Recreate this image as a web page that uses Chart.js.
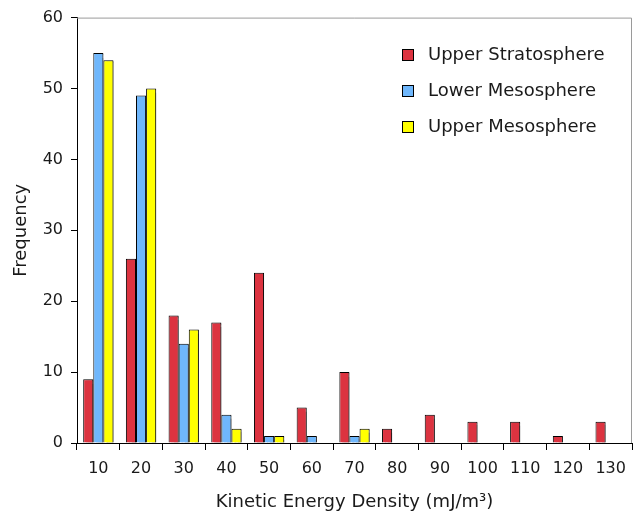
<!DOCTYPE html>
<html lang="en">
<head>
    <meta charset="UTF-8">
    <title>Kinetic Energy Density</title>
    <style>
        body {
            margin: 0;
            padding: 0;
            background-color: #fff;
        }
        #wrap {
            width: 636px;
            height: 516px;
        }
    </style>
    <script src="https://cdn.jsdelivr.net/npm/chart.js"></script>
</head>
<body>
    <div id="wrap"><canvas id="ked-chart"></canvas></div>
    <script>
        const categories = ['10', '20', '30', '40', '50', '60', '70', '80', '90', '100', '110', '120', '130'];
        const upperStratosphere = [9, 26, 18, 17, 24, 5, 10, 2, 4, 3, 3, 1, 3];
        const lowerMesosphere = [55, 49, 14, 4, 1, 1, 1, 0, 0, 0, 0, 0, 0];
        const upperMesosphere = [54, 50, 16, 2, 1, 0, 2, 0, 0, 0, 0, 0, 0];
        const yTicks = [0, 10, 20, 30, 40, 50, 60];

        const fontFamily = '"DejaVu Sans", Verdana, sans-serif';

        // drop shadow behind the bars
        const barShadow = {
            id: 'barShadow',
            beforeDatasetsDraw(chart) {
                const ctx = chart.ctx;
                ctx.save();
                ctx.shadowColor = 'rgba(0,0,0,0.35)';
                ctx.shadowOffsetX = 3;
                ctx.shadowOffsetY = 1;
                ctx.shadowBlur = 1;
            },
            afterDatasetsDraw(chart) {
                chart.ctx.restore();
            }
        };

        // grey frame on top and right, legend inside the plot
        const frameAndLegend = {
            id: 'frameAndLegend',
            afterDraw(chart) {
                const ctx = chart.ctx;
                const a = chart.chartArea;
                ctx.save();
                ctx.strokeStyle = '#9a9a9a';
                ctx.lineWidth = 1;
                ctx.beginPath();
                ctx.moveTo(a.left, a.top + 0.5);
                ctx.lineTo(a.right - 0.5, a.top + 0.5);
                ctx.lineTo(a.right - 0.5, a.bottom);
                ctx.stroke();

                ctx.font = '18px ' + fontFamily;
                ctx.textBaseline = 'middle';
                chart.data.datasets.forEach((ds, i) => {
                    const y = 55 + i * 36;
                    const x = 402;
                    ctx.fillStyle = ds.backgroundColor;
                    ctx.fillRect(x, y - 6, 12, 12);
                    ctx.strokeStyle = '#000';
                    ctx.strokeRect(x + 0.5, y - 5.5, 11, 11);
                    ctx.fillStyle = '#1a1a1a';
                    ctx.fillText(ds.label, x + 26, y);
                });
                ctx.restore();
            }
        };

        const makeChart = () => {
            const ctx = document.getElementById('ked-chart').getContext('2d');
            new Chart(ctx, {
                type: 'bar',
                data: {
                    labels: categories,
                    datasets: [
                        { label: 'Upper Stratosphere', data: upperStratosphere, backgroundColor: '#dc3340' },
                        { label: 'Lower Mesosphere', data: lowerMesosphere, backgroundColor: '#6fb7fc' },
                        { label: 'Upper Mesosphere', data: upperMesosphere, backgroundColor: '#ffff00' }
                    ].map(d => Object.assign(d, {
                        borderColor: '#000',
                        borderWidth: 1,
                        borderSkipped: 'bottom',
                        categoryPercentage: 0.71,
                        barPercentage: 1
                    }))
                },
                options: {
                    responsive: true,
                    maintainAspectRatio: false,
                    animation: false,
                    layout: { autoPadding: false, padding: { top: 12.4, right: 4, left: 0, bottom: 3 } },
                    plugins: {
                        legend: { display: false },
                        tooltip: { enabled: false }
                    },
                    scales: {
                        x: {
                            afterFit: s => { s.height = 70; },
                            grid: {
                                offset: true,
                                drawOnChartArea: false,
                                drawTicks: true,
                                tickLength: 7,
                                color: '#000'
                            },
                            border: { color: '#000', width: 1 },
                            ticks: {
                                color: '#1a1a1a',
                                font: { family: fontFamily, size: 16 },
                                padding: 9,
                                maxRotation: 0,
                                autoSkip: false
                            },
                            title: {
                                display: true,
                                text: 'Kinetic Energy Density (mJ/m³)',
                                color: '#1a1a1a',
                                font: { family: fontFamily, size: 18 },
                                padding: { top: 14, bottom: 0 }
                            }
                        },
                        y: {
                            min: 0,
                            max: 60,
                            afterBuildTicks: s => { s.ticks = yTicks.map(v => ({ value: v })); },
                            afterFit: s => { s.width = 77; },
                            grid: {
                                drawOnChartArea: false,
                                tickLength: 6,
                                color: '#000'
                            },
                            border: { color: '#000', width: 1 },
                            ticks: {
                                color: '#1a1a1a',
                                font: { family: fontFamily, size: 16 },
                                padding: 8
                            },
                            title: {
                                display: true,
                                text: 'Frequency',
                                color: '#1a1a1a',
                                font: { family: fontFamily, size: 18 },
                                padding: { top: 11, bottom: 0 }
                            }
                        }
                    }
                },
                plugins: [barShadow, frameAndLegend]
            });
        };

        document.addEventListener('DOMContentLoaded', makeChart);
    </script>
</body>
</html>
